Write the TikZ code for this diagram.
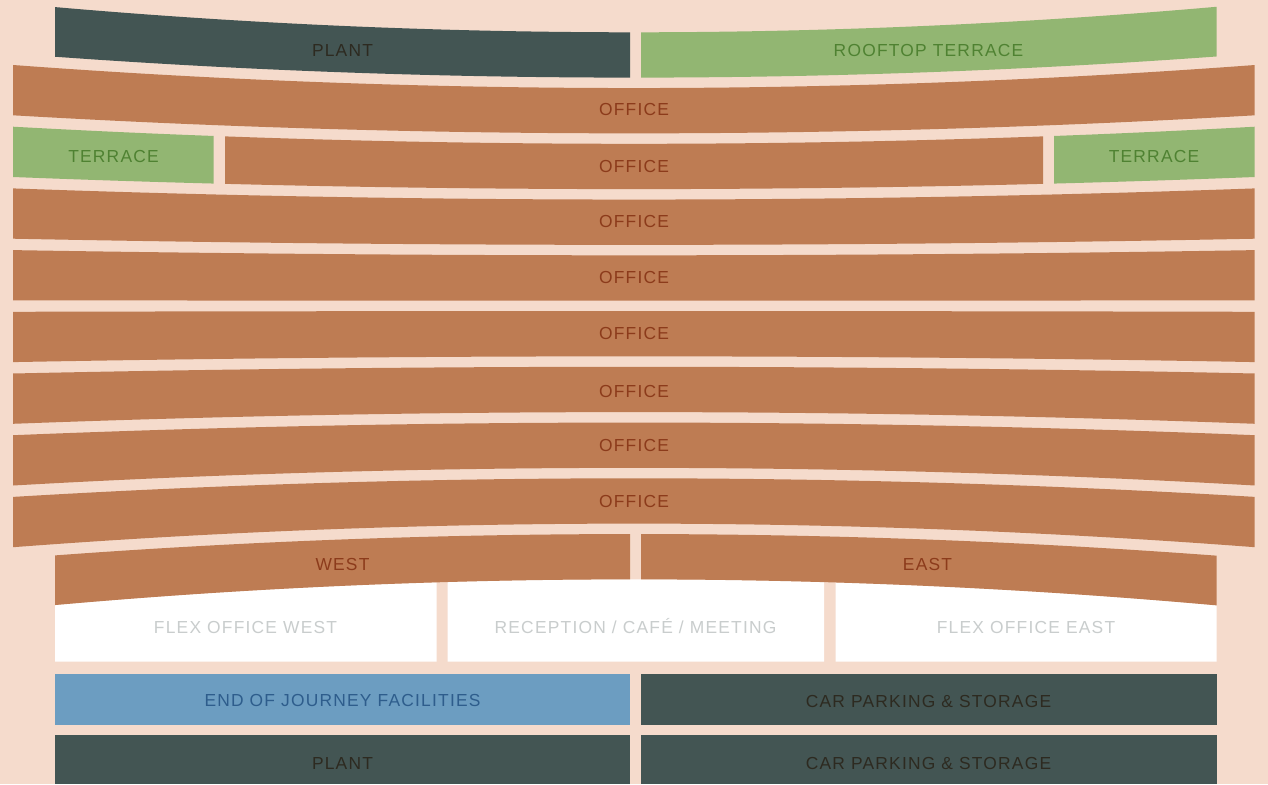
\documentclass[tikz,border=0pt]{standalone}
\usepackage{fontspec}
\setmainfont[LetterSpace=7]{Liberation Sans}
\usepackage{tikz}
\usetikzlibrary{positioning}
\usepackage{xcolor}

\definecolor{bgpink}{HTML}{F5DBCC}
\definecolor{officefill}{HTML}{BE7C53}
\definecolor{officeink}{HTML}{8C3B1B}
\definecolor{plantfill}{HTML}{435553}
\definecolor{plantink}{HTML}{2D2A20}
\definecolor{terracefill}{HTML}{92B672}
\definecolor{terraceink}{HTML}{4F8232}
\definecolor{journeyfill}{HTML}{6C9DC1}
\definecolor{journeyink}{HTML}{2E5D8C}
\definecolor{flexink}{HTML}{C9CDCD}

\tikzset{
  declare function={
    uu(\t)=((\t-634)/621)*((\t-634)/621);
    ftop(\k,\t)=3.3+61.7*\k+(29-5.95*\k)*(1-uu(\t));
    fbot(\k,\t)=ftop(\k,\t)+50.3-5*(1-uu(\t));
  },
  lbl/.style={inner sep=0pt, text height=12.4pt, text depth=0pt,
    font=\fontsize{17.4}{20}\selectfont},
  officelbl/.style={lbl, text=officeink},
  plantlbl/.style={lbl, text=plantink},
  terracelbl/.style={lbl, text=terraceink},
  flexlbl/.style={lbl, text=flexink},
  journeylbl/.style={lbl, text=journeyink}
}

% one curved floor slab: row, left x, right x, fill
\newcommand{\slab}[4]{%
  \fill[#4] plot[domain=#2:#3, samples=50, variable=\t] (\t,{ftop(#1,\t)})
    -- plot[domain=#3:#2, samples=50, variable=\t] (\t,{fbot(#1,\t)}) -- cycle;}

\begin{document}
\begin{tikzpicture}[x=1pt, y=-1pt]
\fill[bgpink] (0,0) rectangle (1268,784);
\useasboundingbox (0,0) rectangle (1268,784);

% ground floor boxes
\fill[white] plot[domain=55:436.5, samples=40, variable=\t] (\t,{fbot(9,\t)}) -- (436.5,661.5) -- (55,661.5) -- cycle;
\fill[white] plot[domain=447.5:824, samples=40, variable=\t] (\t,{fbot(9,\t)}) -- (824,661.5) -- (447.5,661.5) -- cycle;
\fill[white] plot[domain=835.5:1216.5, samples=40, variable=\t] (\t,{fbot(9,\t)}) -- (1216.5,661.5) -- (835.5,661.5) -- cycle;

% top
\slab{0}{55}{630}{plantfill}
\slab{0}{641}{1216.5}{terracefill}
% offices
\foreach \k in {1,3,4,5,6,7,8}
  \slab{\k}{13}{1254.7}{officefill};
\slab{2}{13}{213.5}{terracefill}
\slab{2}{225}{1043}{officefill}
\slab{2}{1054}{1254.7}{terracefill}
\slab{9}{55}{630}{officefill}
\slab{9}{641}{1216.5}{officefill}

% basement
\fill[journeyfill] (55,674) rectangle (630,724.5);
\fill[plantfill] (641,674) rectangle (1216.5,724.5);
\fill[plantfill] (55,735) rectangle (630,784);
\fill[plantfill] (641,735) rectangle (1216.5,784);

% labels
\node[plantlbl] (plantRoof) at (342.5,50) {PLANT};
\node[terracelbl] (roofTerrace) at (928.5,50) {ROOFTOP TERRACE};
\node[terracelbl] (terraceW) at (113.5,156) {TERRACE};
\node[terracelbl] (terraceE) at (1154,156) {TERRACE};
\foreach \k/\y in {1/109,2/166,3/221,4/277,5/333,6/391,7/445,8/501}
  \node[officelbl] (office\k) at (634,\y) {OFFICE};
\node[officelbl] (west) at (342.5,564) {WEST};
\node[officelbl] (east) at (927.5,564) {EAST};
\node[flexlbl] (flexW) at (245.5,627) {FLEX OFFICE WEST};
\node[flexlbl] (reception) at (635.5,627) {RECEPTION / CAFÉ / MEETING};
\node[flexlbl] (flexE) at (1026,627) {FLEX OFFICE EAST};
\node[journeylbl] (journey) at (342.5,700) {END OF JOURNEY FACILITIES};
\node[plantlbl] (parkUp) at (928.5,701) {CAR PARKING \& STORAGE};
\node[plantlbl] (plantLow) at (342.5,763) {PLANT};
\node[plantlbl] (parkLow) at (928.5,763) {CAR PARKING \& STORAGE};
\end{tikzpicture}
\end{document}
